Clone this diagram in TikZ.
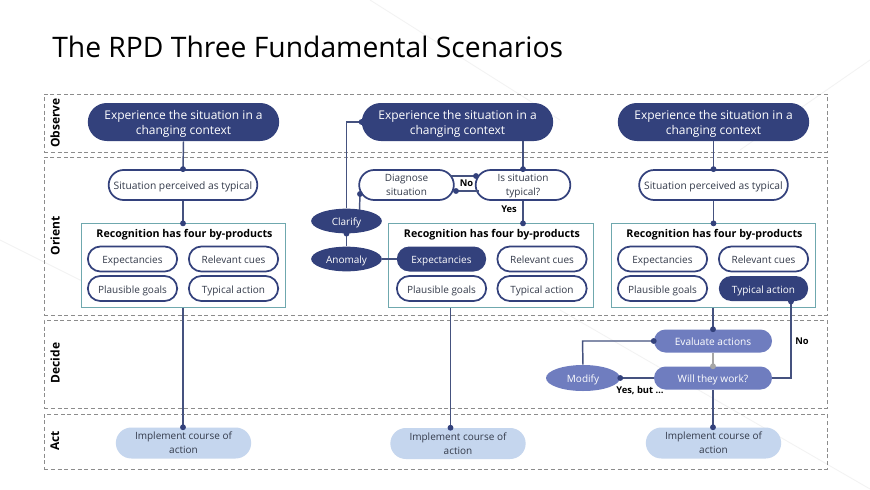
\documentclass[tikz,border=0pt]{standalone}
\usepackage{fontspec}
\setmainfont{Open Sans}
\usetikzlibrary{shapes.misc,shapes.geometric}
\definecolor{navy}{HTML}{33417C}
\definecolor{lineblue}{HTML}{45527F}
\definecolor{midblue}{HTML}{6F7DBF}
\definecolor{lightblue}{HTML}{C5D6EE}
\definecolor{tealedge}{HTML}{6FA8AE}
\definecolor{dashgray}{HTML}{8C8C8C}
\definecolor{txt}{HTML}{333A4A}
\newcommand{\DotAt}[2][navy]{\fill[#1] (#2) circle[radius=2.2pt];}
\newcommand{\Lift}[1]{\rule{0pt}{#1em}}
\tikzset{
 x=0.75pt,y=-0.75pt,
 lowered/.style={execute at begin node={\rule{0pt}{1.2em}},execute at end node={\rule[-0.3em]{0pt}{0.3em}}},
 pill/.style={rounded rectangle,inner sep=0pt,align=center,lowered,minimum height=#1*0.75pt},
 band/.style={draw=dashgray,densely dashed,line width=0.5pt},
 rowlabel/.style={rotate=90,font=\fontsize{9}{11}\selectfont\bfseries,text=black},
 topnode/.style={pill=38,minimum width=143.5pt,fill=navy,text=white,font=\fontsize{9}{11.7}\selectfont},
 whitenode/.style={pill=30,draw=navy,line width=1.3pt,fill=white,text=txt,font=\fontsize{7.7}{10.5}\selectfont},
 prod/.style={pill=25,minimum width=67pt,draw=navy,line width=1.3pt,fill=white,text=txt,font=\fontsize{7.5}{9}\selectfont},
 proddark/.style={pill=25,minimum width=67pt,fill=navy,text=white,font=\fontsize{7.5}{9}\selectfont},
 darkell/.style={ellipse,inner sep=0pt,lowered,minimum width=53pt,minimum height=18.5pt,fill=navy,text=white,font=\fontsize{7.5}{9}\selectfont},
 midell/.style={ellipse,inner sep=0pt,lowered,minimum width=55.5pt,minimum height=19.5pt,fill=midblue,text=white,font=\fontsize{7.5}{9}\selectfont},
 midnode/.style={pill=23,minimum width=88.5pt,fill=midblue,text=white,font=\fontsize{7.6}{9}\selectfont},
 implnode/.style={pill=31,minimum width=101.5pt,fill=lightblue,text=txt,font=\fontsize{7.5}{10.5}\selectfont},
 prodbox/.style={draw=tealedge,line width=0.7pt,fill=white,minimum width=153.5pt,minimum height=62.5pt,inner sep=0pt},
 boxtitle/.style={font=\fontsize{8}{9}\selectfont\bfseries,text=black},
 tag/.style={font=\fontsize{7}{9}\selectfont\bfseries,text=black},
 conn/.style={draw=lineblue,line width=1.1pt},
 softconn/.style={draw=black!35,line width=1.1pt},
}
\begin{document}
\begin{tikzpicture}
\useasboundingbox (0,0) rectangle (870,489);
\fill[white] (0,0) rectangle (870,489);
% faint background strokes
\draw[black!5,line width=0.6pt] (370,0) -- (560,120) (560,310) -- (870,489) (0,240) -- (120,300) (870,60) -- (740,150);

\node[anchor=base west,inner sep=0pt,font=\fontsize{21.2}{26}\selectfont,text=black] (title) at (52,57) {The RPD Three Fundamental Scenarios};

% bands
\node[band,minimum width=587pt,minimum height=43.5pt,inner sep=0pt] (bObserve) at (435.5,123) {};
\node[band,minimum width=587pt,minimum height=118.5pt,inner sep=0pt] (bOrient) at (435.5,236) {};
\node[band,minimum width=587pt,minimum height=66pt,inner sep=0pt] (bDecide) at (435.5,364) {};
\node[band,minimum width=587pt,minimum height=41.25pt,inner sep=0pt] (bAct) at (435.5,441.5) {};
\node[rowlabel] (lObserve) at (55,123) {Observe};
\node[rowlabel] (lOrient) at (55,236) {Orient};
\node[rowlabel] (lDecide) at (55,363) {Decide};
\node[rowlabel] (lAct) at (55,441) {Act};

% product boxes
\node[prodbox] (boxA) at (183.5,265.5) {};
\node[prodbox] (boxB) at (491,265.5) {};
\node[prodbox] (boxC) at (713.5,265.5) {};
\node[boxtitle] (tA) at (184.5,234.5) {Recognition has four by-products};
\node[boxtitle] (tB) at (492,234.5) {Recognition has four by-products};
\node[boxtitle] (tC) at (714.5,234.5) {Recognition has four by-products};

% column A
\node[topnode] (topA) at (183.5,122) {\Lift{1.15}Experience the situation in a\\changing context};
\node[whitenode,minimum width=111.5pt] (sitA) at (183,185) {Situation perceived as typical};
\node[prod] (expA) at (132.5,259) {Expectancies};
\node[prod] (relA) at (233.5,259) {Relevant cues};
\node[prod] (plaA) at (132.5,288.5) {Plausible goals};
\node[prod] (typA) at (233.5,288.5) {Typical action};
\node[implnode] (impA) at (183.5,443) {\Lift{1}Implement course of\\action};

% column B
\node[topnode] (topB) at (457.5,122) {\Lift{1.15}Experience the situation in a\\changing context};
\node[whitenode,minimum width=71pt,font=\fontsize{7.5}{10.5}\selectfont] (diag) at (406.5,185) {\Lift{1}Diagnose\\situation};
\node[whitenode,minimum width=71pt,font=\fontsize{7.5}{10.5}\selectfont] (isT) at (523,185) {\Lift{1}Is situation\\typical?};
\node[darkell] (clar) at (346.5,221) {Clarify};
\node[darkell] (anom) at (346.5,259) {Anomaly};
\node[proddark] (expB) at (441.5,259) {Expectancies};
\node[prod] (relB) at (542,259) {Relevant cues};
\node[prod] (plaB) at (441.5,288.5) {Plausible goals};
\node[prod] (typB) at (542,288.5) {Typical action};
\node[implnode] (impB) at (458,443.5) {\Lift{1}Implement course of\\action};

% column C
\node[topnode] (topC) at (713.5,122) {\Lift{1.15}Experience the situation in a\\changing context};
\node[whitenode,minimum width=111.5pt] (sitC) at (713.5,185) {Situation perceived as typical};
\node[prod] (expC) at (662.5,259) {Expectancies};
\node[prod] (relC) at (763.5,259) {Relevant cues};
\node[prod] (plaC) at (662.5,288.5) {Plausible goals};
\node[proddark] (typC) at (763.5,288.5) {Typical action};
\node[midnode] (evalN) at (713,341) {Evaluate actions};
\node[midnode] (will) at (713,378) {Will they work?};
\node[midell] (modi) at (583,378) {Modify};
\node[implnode] (impC) at (713.5,443) {\Lift{1}Implement course of\\action};

% helper points
\coordinate (xB) at (450.5,0);
\coordinate (clarOut) at (359.5,210);
\coordinate (diagIn) at (360,194);
\coordinate (noUpL) at (450,176);
\coordinate (noUpR) at (476,176);
\coordinate (noLoL) at (456,191);
\coordinate (noLoR) at (479,191);
\coordinate (bendL) at (346.5,122);
\coordinate (bendM) at (582.5,341);
\coordinate (bendR) at (791,378);
\coordinate (typDot) at (791,301.5);

% connectors A
\draw[conn] (topA.south) -- (sitA.north); \DotAt{sitA.north}
\draw[conn] (sitA.south) -- (boxA.north -| sitA.south); \DotAt{boxA.north -| sitA.south}
\draw[conn] (boxA.south -| sitA.south) -- (impA.north -| sitA.south); \DotAt{impA.north -| sitA.south}

% connectors B
\draw[conn] (clar.north) -- (bendL) -- (topB.west); \DotAt{topB.west}
\draw[conn] (topB.south -| isT.north) -- (isT.north); \DotAt{isT.north}
\draw[conn] (clarOut) -- (diagIn); \DotAt{diagIn}
\draw[conn] (noUpL) -- (noUpR); \DotAt{noUpR}
\draw[conn] (noLoR) -- (noLoL); \DotAt{noLoL}
\draw[conn] (isT.south) -- (boxB.north -| isT.south); \DotAt{boxB.north -| isT.south}
\draw[conn] (anom.north) -- (clar.south); \DotAt{clar.south}
\draw[conn] (anom.east) -- (expB.west);
\draw[conn] (boxB.south -| xB) -- (impB.north -| xB); \DotAt{impB.north -| xB}

% connectors C
\draw[conn] (topC.south) -- (sitC.north); \DotAt{sitC.north}
\draw[conn] (sitC.south) -- (boxC.north -| sitC.south); \DotAt{boxC.north -| sitC.south}
\draw[conn] (boxC.south -| evalN.north) -- (evalN.north); \DotAt{evalN.north}
\draw[softconn] (evalN.south) -- (will.north); \DotAt[black!35]{will.north}
\draw[conn] (will.south) -- (impC.north -| will.south); \DotAt{impC.north -| will.south}
\draw[conn] (modi.north) -- (bendM) -- (evalN.west); \DotAt{evalN.west}
\draw[conn] (will.west) -- (modi.east); \DotAt{modi.east}
\draw[conn] (will.east) -- (bendR) -- (typDot); \DotAt{typDot}

% labels
\node[tag] (tNo) at (466.5,183) {No};
\node[tag] (tYes) at (509,209) {Yes};
\node[tag] (tNoC) at (802,341) {No};
\node[tag] (tYesBut) at (640,391) {Yes, but …};
\end{tikzpicture}
\end{document}
